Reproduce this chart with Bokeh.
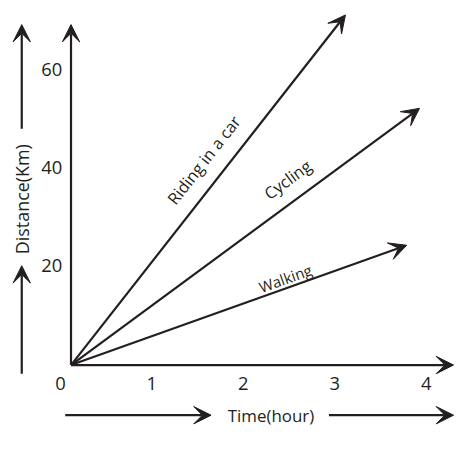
import math
from bokeh.plotting import figure
from bokeh.models import Range1d, Arrow, VeeHead, ColumnDataSource
from bokeh.core.properties import value
from bokeh.embed import file_html
from bokeh.resources import INLINE

# ---- data ----
modes = ["Riding in a car", "Cycling", "Walking"]
end_time = [3.0, 3.81, 3.67]        # hours (arrow tips)
end_distance = [71.6, 52.5, 24.5]   # km
x_ticks = [0, 1, 2, 3, 4]
y_ticks = [20, 40, 60]
x_title = "Time(hour)"
y_title = "Distance(Km)"

# ---- style / layout ----
label_frac = [0.547, 0.657, 0.648]
label_gap = [23, 22, 10]          # px, perpendicular to the line
label_size = [17, 17, 15.5]

W, H = 454, 434
K = W / 470.0                      # overall shrink to fit the window
RX, RY = 94.7, 5.07                # design px per hour / per km
OX, OY = 73, 378                   # design px of the origin
X0, X1 = -OX / RX, (470 - OX) / RX
Y0, Y1 = (OY - 450) / RY, OY / RY
INK = "#231f20"
FONT = "Open Sans"


def fs(s):
    return value(f"{s * K:.1f}px")


p = figure(width=W, height=H, x_range=Range1d(X0, X1), y_range=Range1d(Y0, Y1),
           output_backend="svg", toolbar_location=None, min_border=0)
p.axis.visible = False
p.grid.visible = False
p.outline_line_color = None
p.background_fill_color = "white"
p.border_fill_color = "white"


def head():
    return VeeHead(size=18 * K, fill_color=INK, line_color=INK, line_width=1)


def arrow(x0, y0, x1, y1):
    p.add_layout(Arrow(end=head(), x_start=x0, y_start=y0, x_end=x1, y_end=y1,
                       line_color=INK, line_width=2.2))


# axes
arrow(0, 0, (469 - OX) / RX, 0)
arrow(0, 0, 0, (OY - 25) / RY)

# series arrows
src = ColumnDataSource(dict(t=end_time, d=end_distance))
p.add_layout(Arrow(end=head(), x_start=0, y_start=0, x_end="t", y_end="d", source=src,
                   line_color=INK, line_width=2.2))

# series labels along lines
for i, (t, d, f, g) in enumerate(zip(end_time, end_distance, label_frac, label_gap)):
    ang = math.atan2(d * RY, t * RX)
    nx, ny = -math.sin(ang), math.cos(ang)
    p.text(x=[f * t + nx * g / RX], y=[f * d + ny * g / RY], text=[modes[i]], angle=[ang],
           text_font=value(FONT), text_font_size=fs(label_size[i]),
           text_color=INK, text_align="center", text_baseline="middle")

# tick labels
p.text(x=[v - 11 / RX for v in x_ticks], y=[-19 / RY] * len(x_ticks),
       text=[str(v) for v in x_ticks], text_font=value(FONT),
       text_font_size=fs(19), text_color=INK,
       text_align="center", text_baseline="middle")
p.text(x=[-20 / RX] * len(y_ticks), y=[v + 2 / RY for v in y_ticks],
       text=[str(v) for v in y_ticks], text_font=value(FONT),
       text_font_size=fs(19), text_color=INK,
       text_align="center", text_baseline="middle")

# y title with arrows
ytx = (22 - OX) / RX
p.text(x=[ytx], y=[(OY - 206) / RY], text=[y_title], angle=[math.pi / 2],
       text_font=value(FONT), text_font_size=fs(18.5), text_color=INK,
       text_align="center", text_baseline="middle")
arrow(ytx, (OY - 133) / RY, ytx, (OY - 25) / RY)
arrow(ytx, (OY - 387) / RY, ytx, (OY - 275) / RY)

# x title with arrows
xty = (OY - 430) / RY
p.text(x=[(280 - OX) / RX], y=[xty], text=[x_title],
       text_font=value(FONT), text_font_size=fs(17.5), text_color=INK,
       text_align="center", text_baseline="middle")
arrow((67 - OX) / RX, xty, (218 - OX) / RX, xty)
arrow((340 - OX) / RX, xty, (469 - OX) / RX, xty)

open("out.html", "w").write(file_html(p, INLINE))
